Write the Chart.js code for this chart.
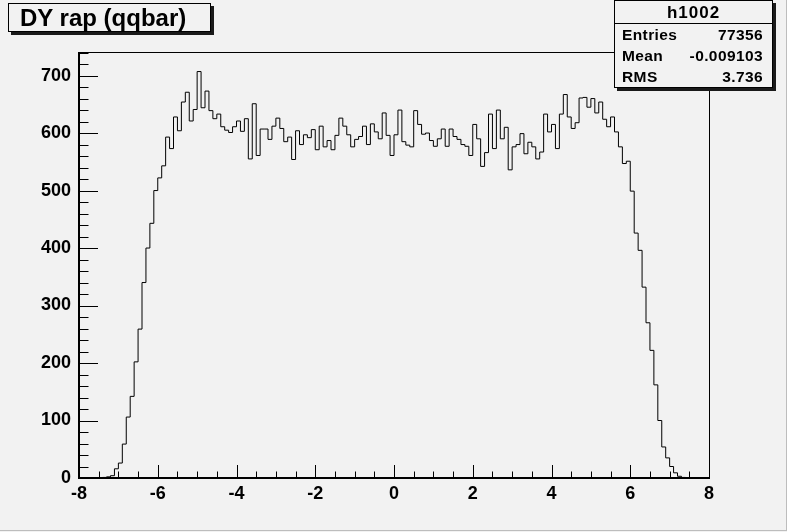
<!DOCTYPE html>
<html>
<head>
<meta charset="utf-8">
<script src="https://cdn.jsdelivr.net/npm/chart.js@4"></script>
<style>
  html, body { margin: 0; padding: 0; background: #f2f2f2; }
  #wrap { position: relative; width: 787px; height: 532px; overflow: hidden;
          font-family: "Liberation Sans", Arial, sans-serif; font-weight: bold; color: #000; }
  #edge { position: absolute; left: 0; top: 0; width: 786px; height: 530px;
          border-right: 1px solid #bdbdbd; border-bottom: 1px solid #bdbdbd; }
  canvas { position: absolute; left: 0; top: 0; }
  .box { position: absolute; background: #f2f2f2; border: 1px solid #000;
         box-shadow: 3px 3px 0 #1a1a1a; box-sizing: border-box; }
  #title { left: 8px; top: 3px; width: 203px; height: 29px; font-size: 24px;
           line-height: 28px; padding-left: 11px; white-space: nowrap; }
  #stats { left: 614px; top: 0px; width: 159px; height: 88px; font-size: 15.5px; }
  #stats .head { height: 22px; line-height: 24px; text-align: center; font-size: 17px;
                 letter-spacing: 1px; border-bottom: 1px solid #000; }
  #stats .row { position: relative; height: 21px; line-height: 21px; letter-spacing: 0.4px; }
  #stats .row span { position: absolute; }
  #stats .row .k { left: 7px; }
  #stats .row .v { right: 9px; }
</style>
</head>
<body>
<div id="wrap">
  <div id="edge"></div>
  <canvas id="histChart" width="787" height="532"></canvas>
  <div class="box" id="title">DY rap (qqbar)</div>
  <div class="box" id="stats">
    <div class="head" id="histName"></div>
    <div class="row"><span class="k">Entries</span><span class="v" id="entries"></span></div>
    <div class="row"><span class="k">Mean</span><span class="v" id="mean"></span></div>
    <div class="row"><span class="k">RMS</span><span class="v" id="rms"></span></div>
  </div>
</div>
<script>
// binning of h1002
const xMin = -8;
const xMax = 8;
const binWidth = 0.1;

// bin contents (160 bins)
const counts = [
    0, 0, 0, 0, 0, 0, 1, 2, 4, 16,
    26, 59, 106, 142, 202, 259, 340, 400, 443, 500,
    522, 543, 593, 573, 628, 604, 654, 671, 621, 641,
    707, 644, 673, 639, 625, 633, 611, 605, 601, 611,
    621, 603, 625, 555, 651, 561, 607, 607, 589, 612,
    626, 608, 585, 593, 554, 604, 580, 597, 592, 606,
    571, 612, 576, 587, 571, 596, 626, 612, 597, 576,
    589, 594, 612, 580, 616, 602, 590, 635, 596, 561,
    597, 640, 585, 579, 576, 639, 615, 598, 600, 587,
    577, 590, 607, 577, 607, 594, 589, 580, 577, 561,
    615, 590, 542, 566, 633, 573, 640, 590, 610, 536,
    576, 580, 599, 564, 584, 576, 555, 567, 633, 602,
    615, 573, 633, 667, 628, 608, 618, 661, 662, 645,
    660, 635, 654, 624, 611, 628, 602, 576, 547, 551,
    499, 426, 396, 332, 270, 222, 162, 100, 54, 35,
    20, 9, 3, 1, 0, 0, 0, 0, 0, 0
];

// axis ticks
const xTickLabels = [-8, -6, -4, -2, 0, 2, 4, 6, 8];
const yTickLabels = [0, 100, 200, 300, 400, 500, 600, 700];
const yMax = 741;

// stats box
const histName = "h1002";
const statEntries = "77356";
const statMean = "-0.009103";
const statRms = "3.736";

document.getElementById("histName").innerText = histName;
document.getElementById("entries").innerText = statEntries;
document.getElementById("mean").innerText = statMean;
document.getElementById("rms").innerText = statRms;

// outline points: left edge of every bin, plus closing point at xMax
const histPoints = counts.map((c, i) => ({ x: xMin + i * binWidth, y: c }));
histPoints.push({ x: xMax, y: counts[counts.length - 1] });

// ROOT-style frame and inward tick marks
const frameTicks = {
    id: "frameTicks",
    afterDatasetsDraw(chart) {
        const { ctx, chartArea: a, scales } = chart;
        const xs = scales.x, ys = scales.y;
        ctx.save();
        ctx.strokeStyle = "#000";
        ctx.lineWidth = 1;
        ctx.strokeRect(a.left + 0.5, a.top + 0.5, a.right - a.left, a.bottom - a.top);

        // x ticks: major every 2, minor every 0.5
        for (let v = xMin; v <= xMax + 1e-9; v += 0.5) {
            const px = Math.round(xs.getPixelForValue(v)) + 0.5;
            const len = (Math.abs(v % 2) < 1e-9) ? 13 : 6.5;
            ctx.beginPath();
            ctx.moveTo(px, a.bottom);
            ctx.lineTo(px, a.bottom - len);
            ctx.stroke();
        }
        // y ticks: major every 100, minor every 20
        for (let v = 0; v <= yMax; v += 20) {
            const py = Math.round(ys.getPixelForValue(v)) + 0.5;
            const len = (v % 100 === 0) ? 19 : 9.5;
            ctx.beginPath();
            ctx.moveTo(a.left, py);
            ctx.lineTo(a.left + len, py);
            ctx.stroke();
        }

        // axis lines a little heavier
        ctx.lineWidth = 2;
        ctx.beginPath();
        ctx.moveTo(a.left, a.top);
        ctx.lineTo(a.left, a.bottom);
        ctx.lineTo(a.right, a.bottom);
        ctx.stroke();
        ctx.restore();
    }
};

const ctx = document.getElementById("histChart").getContext("2d");
new Chart(ctx, {
    type: "line",
    data: {
        datasets: [{
            label: histName,
            data: histPoints,
            stepped: true,
            borderColor: "#000",
            borderWidth: 1,
            pointRadius: 0,
            fill: false,
        }]
    },
    options: {
        responsive: false,
        animation: false,
        events: [],
        layout: { padding: { left: 0, top: 52, right: 78, bottom: 0 } },
        plugins: {
            legend: { display: false },
            tooltip: { enabled: false },
        },
        scales: {
            x: {
                type: "linear",
                min: xMin,
                max: xMax,
                afterBuildTicks: (s) => { s.ticks = xTickLabels.map(v => ({ value: v })); },
                afterFit: (s) => { s.height = 54; },
                grid: { display: false, drawTicks: false },
                border: { display: false },
                ticks: {
                    padding: 5,
                    color: "#000",
                    maxRotation: 0,
                    autoSkip: false,
                    font: { family: "'Liberation Sans', Arial, sans-serif", size: 18, weight: "bold" },
                }
            },
            y: {
                type: "linear",
                min: 0,
                max: yMax,
                afterBuildTicks: (s) => { s.ticks = yTickLabels.map(v => ({ value: v })); },
                afterFit: (s) => { s.width = 79; },
                grid: { display: false, drawTicks: false },
                border: { display: false },
                ticks: {
                    padding: 8,
                    color: "#000",
                    autoSkip: false,
                    font: { family: "'Liberation Sans', Arial, sans-serif", size: 18, weight: "bold" },
                }
            }
        }
    },
    plugins: [frameTicks]
});
</script>
</body>
</html>
